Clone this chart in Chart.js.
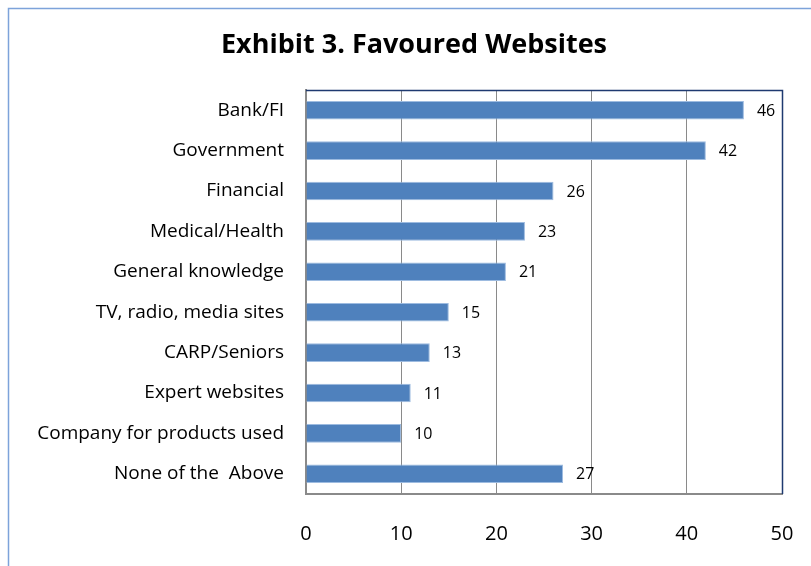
<!DOCTYPE html>
<html>
<head>
<meta charset="utf-8">
<script src="https://cdn.jsdelivr.net/npm/chart.js@4.4.0/dist/chart.umd.min.js"></script>
<style>
html,body{margin:0;padding:0;background:#fff;}
#wrap{position:relative;width:811px;height:566px;}
</style>
</head>
<body>
<div id="wrap"><canvas id="c" width="811" height="566"></canvas></div>
<script>
const titleText = 'Exhibit 3. Favoured Websites';
const categories = ['Bank/FI','Government','Financial','Medical/Health','General knowledge','TV, radio, media sites','CARP/Seniors','Expert websites','Company for products used','None of the  Above'];
const values = [46,42,26,23,21,15,13,11,10,27];
const xTickValues = [0,10,20,30,40,50];

const FONT = "'Open Sans', sans-serif";

const framePlugin = {
  id: 'frame',
  afterLayout(chart) {
    // widen the label area of the category axis so long labels are not clipped
    chart.scales.y.left = 8;
  },
  beforeDraw(chart) {
    const ctx = chart.ctx;
    ctx.save();
    ctx.strokeStyle = '#7da3da';
    ctx.lineWidth = 1.5;
    ctx.beginPath();
    ctx.moveTo(8.5, 570);
    ctx.lineTo(8.5, 8.5);
    ctx.lineTo(815, 8.5);
    ctx.stroke();
    ctx.restore();
  },
  afterDraw(chart) {
    const a = chart.chartArea;
    const ctx = chart.ctx;
    ctx.save();
    ctx.strokeStyle = '#1f3a70';
    ctx.lineWidth = 1.5;
    ctx.beginPath();
    ctx.moveTo(a.left, a.top + 0.5);
    ctx.lineTo(a.right + 0.5, a.top + 0.5);
    ctx.lineTo(a.right + 0.5, a.bottom);
    ctx.stroke();
    ctx.restore();
  }
};

const valueLabels = {
  id: 'valueLabels',
  afterDatasetsDraw(chart) {
    const ctx = chart.ctx;
    const meta = chart.getDatasetMeta(0);
    ctx.save();
    ctx.font = '16px ' + FONT;
    ctx.fillStyle = '#000';
    ctx.textAlign = 'left';
    ctx.textBaseline = 'middle';
    meta.data.forEach((bar, i) => {
      ctx.fillText(String(values[i]), bar.x + 13, bar.y + 1);
    });
    ctx.restore();
  }
};

new Chart(document.getElementById('c'), {
  type: 'bar',
  data: {
    labels: categories,
    datasets: [{
      data: values,
      backgroundColor: '#4f81bd',
      borderColor: '#9dbbe0',
      borderWidth: 1,
      barPercentage: 0.46,
      categoryPercentage: 1.0
    }]
  },
  options: {
    indexAxis: 'y',
    responsive: false,
    animation: false,
    events: [],
    layout: { padding: { left: 46, right: 29, top: 0, bottom: 0 } },
    plugins: {
      legend: { display: false },
      tooltip: { enabled: false },
      title: {
        display: true,
        text: titleText,
        color: '#000',
        font: { family: FONT, size: 27, weight: 'bold', lineHeight: 1.2 },
        padding: { top: 29, bottom: 28.6 }
      }
    },
    scales: {
      x: {
        min: 0,
        max: 50,
        afterBuildTicks(scale) { scale.ticks = xTickValues.map(v => ({ value: v })); },
        afterFit(scale) { scale.height = 72; scale.paddingLeft = 0; scale.paddingRight = 0; },
        ticks: { color: '#000', font: { family: FONT, size: 20 }, padding: 28, maxRotation: 0 },
        grid: { color: '#8a8a8a', lineWidth: 1, drawTicks: false },
        border: { display: true, color: '#8a8a8a', width: 2 }
      },
      y: {
        afterFit(scale) { scale.width = 260; scale.paddingTop = 0; scale.paddingBottom = 0; },
        ticks: { color: '#000', font: { family: FONT, size: 19 }, padding: 22, autoSkip: false },
        grid: { display: false, drawTicks: false },
        border: { display: true, color: '#8a8a8a', width: 2 }
      }
    }
  },
  plugins: [framePlugin, valueLabels]
});
</script>
</body>
</html>
